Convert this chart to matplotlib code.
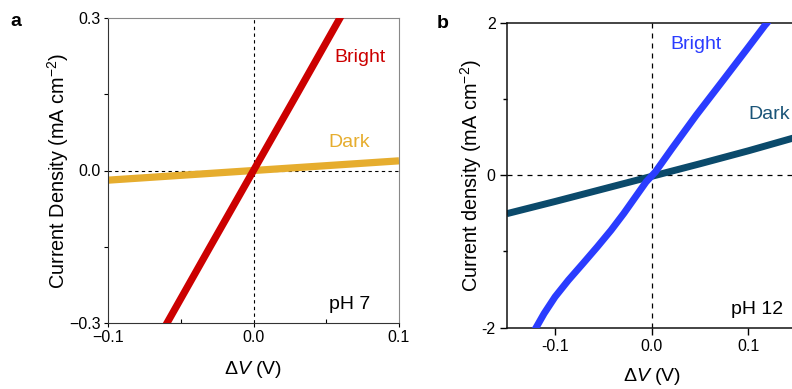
import matplotlib
matplotlib.use('Agg')
import matplotlib.pyplot as plt
from matplotlib.ticker import FixedLocator

plt.rcParams['font.family'] = ['Liberation Sans', 'DejaVu Sans']
plt.rcParams['mathtext.fontset'] = 'custom'
plt.rcParams['mathtext.rm'] = 'Liberation Sans'
plt.rcParams['mathtext.it'] = 'Liberation Sans:italic'

# panel a, pH 7
bright_a_v = [-0.062, -0.03, 0.0, 0.03, 0.062]
bright_a_j = [-0.313, -0.151, 0.0, 0.151, 0.313]
dark_a_v = [-0.1, -0.05, 0.0, 0.05, 0.1]
dark_a_j = [-0.019, -0.0095, 0.0, 0.0095, 0.019]

# panel b, pH 12
bright_b_v = [-0.1225, -0.1192, -0.1113, -0.1000, -0.0862, -0.0711, -0.0563, -0.0420,
              -0.0289, -0.0168, -0.0058, 0.0038, 0.0210, 0.0461, 0.0726, 0.0990,
              0.1172, 0.1195, 0.1230]
bright_b_j = [-2.06, -1.990, -1.814, -1.596, -1.377, -1.158, -0.940, -0.721,
              -0.502, -0.285, -0.088, 0.043, 0.350, 0.787, 1.224, 1.662,
              1.967, 2.0, 2.06]
dark_b_v = [-0.15, -0.1, -0.05, 0.0, 0.05, 0.1, 0.15]
dark_b_j = [-0.505, -0.345, -0.18, -0.015, 0.15, 0.32, 0.50]

fig = plt.figure(figsize=(7.92, 3.89), dpi=100)

# ---- panel a
ax1 = fig.add_axes([108/792, 66/389, 291/792, 305/389])
ax1.axhline(0, color='k', lw=0.8, ls=(0, (3, 3)), zorder=1)
ax1.axvline(0, color='k', lw=0.8, ls=(0, (3, 3)), zorder=1)
ax1.plot(dark_a_v, dark_a_j, color='#e6ad2e', lw=5.2, solid_capstyle='butt', zorder=2)
ax1.plot(bright_a_v, bright_a_j, color='#cc0000', lw=5.2, solid_capstyle='butt', zorder=3)
ax1.set_xlim(-0.1, 0.1)
ax1.set_ylim(-0.3, 0.3)
ax1.set_xticks([-0.1, 0.0, 0.1])
ax1.set_xticklabels(['\u22120.1', '0.0', '0.1'])
ax1.set_yticks([-0.3, 0.0, 0.3])
ax1.set_yticklabels(['\u22120.3', '0.0', '0.3'])
ax1.xaxis.set_minor_locator(FixedLocator([-0.05, 0.05]))
ax1.yaxis.set_minor_locator(FixedLocator([-0.15, 0.15]))
ax1.tick_params(which='major', direction='out', length=3, width=0.8, labelsize=11.5, pad=2)
ax1.tick_params(axis='x', which='minor', direction='in', length=3, width=0.8)
ax1.tick_params(axis='y', which='minor', direction='out', length=3, width=0.8)
for s in ['left', 'bottom']:
    ax1.spines[s].set_color('#333333')
for s in ['top', 'right']:
    ax1.spines[s].set_color('#888888')
ax1.set_xlabel('$\\Delta V$ (V)', fontsize=14, labelpad=10)
ax1.set_ylabel('Current Density (mA cm$^{-2}$)', fontsize=14.3, labelpad=-1)
ax1.text(0.073, 0.223, 'Bright', color='#cc0000', fontsize=14, ha='center', va='center')
ax1.text(0.066, 0.056, 'Dark', color='#e6ad2e', fontsize=14, ha='center', va='center')
ax1.text(0.066, -0.263, 'pH 7', color='k', fontsize=14, ha='center', va='center')
fig.text(10/792, 1 - 22/389, 'a', fontsize=14, fontweight='bold', ha='left', va='center')

# ---- panel b
ax2 = fig.add_axes([506.7/792, 61.3/389, 290/792, 305/389])
ax2.axhline(0, color='k', lw=0.9, ls=(0, (4, 4)), zorder=1)
ax2.axvline(0, color='k', lw=0.9, ls=(0, (4, 4)), zorder=1)
ax2.plot(dark_b_v, dark_b_j, color='#0b4a6b', lw=5, solid_capstyle='butt', zorder=2)
ax2.plot(bright_b_v, bright_b_j, color='#2a3cff', lw=5, solid_capstyle='butt',
         solid_joinstyle='round', zorder=3)
ax2.set_xlim(-0.15, 0.15)
ax2.set_ylim(-2, 2)
ax2.set_xticks([-0.1, 0.0, 0.1])
ax2.set_xticklabels(['-0.1', '0.0', '0.1'])
ax2.set_yticks([-2, 0, 2])
ax2.set_yticklabels(['-2', '0', '2'])
ax2.yaxis.set_minor_locator(FixedLocator([-1, 1]))
ax2.tick_params(which='major', direction='out', length=5, width=1, labelsize=11.5, pad=3)
ax2.tick_params(which='minor', direction='out', length=3, width=1)
for s in ax2.spines.values():
    s.set_color('#111111')
    s.set_linewidth(1.1)
ax2.set_xlabel('$\\Delta V$ (V)', fontsize=14, labelpad=9)
ax2.set_ylabel('Current density (mA cm$^{-2}$)', fontsize=14.3, labelpad=-2)
ax2.text(0.046, 1.72, 'Bright', color='#2a3cff', fontsize=14, ha='center', va='center')
ax2.text(0.122, 0.79, 'Dark', color='#1a5478', fontsize=14, ha='center', va='center')
ax2.text(0.109, -1.76, 'pH 12', color='k', fontsize=14, ha='center', va='center')
fig.text(437/792, 1 - 24/389, 'b', fontsize=14, fontweight='bold', ha='left', va='center')

fig.savefig('out.png', dpi=100)
